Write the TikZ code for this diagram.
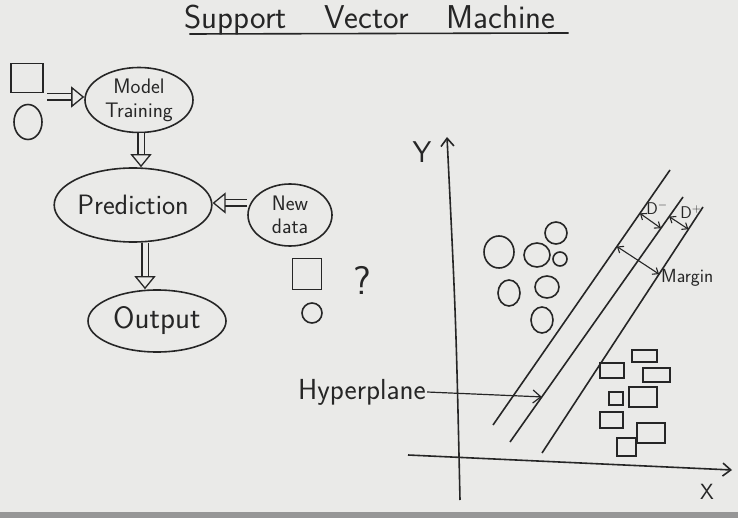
\documentclass[tikz,border=0pt]{standalone}
\usepackage{tikz}
\usetikzlibrary{arrows.meta, positioning, shapes.geometric, calc}
\definecolor{boardgray}{RGB}{234,234,232}
\definecolor{inkgray}{RGB}{38,38,38}
\definecolor{framegray}{RGB}{150,150,150}

\tikzset{
  ink/.style={draw=inkgray, line width=1.6pt},
  bubble/.style={ellipse, ink, inner sep=0pt, text=inkgray, align=center},
  hollow/.style={draw=inkgray, line width=1.3pt, double=boardgray, double distance=5pt,
    -{Triangle[open, length=13pt, width=21pt]}},
  barb/.style={ink, -{Straight Barb[length=8pt, width=13pt]}},
  dim/.style={draw=inkgray, line width=1.1pt,
    {Straight Barb[length=5pt, width=8pt]}-{Straight Barb[length=5pt, width=8pt]}},
  label/.style={text=inkgray, inner sep=1pt}
}

\begin{document}
\begin{tikzpicture}[x=1pt, y=-1pt, font=\sffamily]
  \fill[boardgray] (0,0) rectangle (738,518);
  \fill[framegray] (0,512) rectangle (738,518);
  \useasboundingbox (0,0) rectangle (738,518);

  % title
  \node[label, anchor=base, font=\sffamily\fontsize{33}{36}\selectfont] (title) at (370,29)
    {Support\hspace{38pt}Vector\hspace{38pt}Machine};
  \draw[ink] ([xshift=6pt, yshift=-5pt]title.base west) -- ([xshift=12pt, yshift=-4pt]title.base east);

  % flow of the classifier
  \node[draw=inkgray, line width=1.6pt, minimum width=32pt, minimum height=29pt] (sqA) at (27,78) {};
  \node[draw=inkgray, line width=1.6pt, ellipse, minimum width=28pt, minimum height=35pt] (cirA) at (28,122) {};
  \coordinate (inA) at (47,97);
  \node[bubble, minimum width=108pt, minimum height=65pt,
    font=\sffamily\fontsize{21}{24}\selectfont] (train) at (139,100) {Model\\Training};
  \node[bubble, minimum width=140pt, minimum height=74pt,
    font=\sffamily\fontsize{28}{30}\selectfont] (pred) at (133,205) {Prediction};
  \node[bubble, minimum width=84pt, minimum height=62pt,
    font=\sffamily\fontsize{21}{23}\selectfont] (newdata) at (290,215) {New\\data};
  \node[bubble, minimum width=138pt, minimum height=62pt,
    font=\sffamily\fontsize{31}{34}\selectfont] (output) at (157,321) {Output};

  \draw[hollow] (inA) -- (train.west |- inA);
  \draw[hollow] ([xshift=2pt]train.south) -- ([xshift=2pt]train.south |- pred.north);
  \draw[hollow] ([yshift=12pt]newdata.west) -- ([yshift=2pt]pred.east);
  \draw[hollow] ([xshift=12pt]pred.south) -- ([xshift=12pt]pred.south |- output.north);

  % unknown sample
  \node[draw=inkgray, line width=1.6pt, minimum width=29pt, minimum height=31pt] (sqB) at (307,274) {};
  \node[draw=inkgray, line width=1.6pt, ellipse, minimum width=20pt, minimum height=20pt] (cirB) at (312,313) {};
  \node[label, font=\sffamily\fontsize{40}{42}\selectfont] (ask) at (362,280) {?};

  % axes
  \coordinate (yfoot) at (460,500);
  \coordinate (ytip) at (447,137);
  \coordinate (xfoot) at (408,455);
  \coordinate (xtip) at (732,470);
  \draw[barb] (yfoot) .. controls (456,320) .. (ytip);
  \draw[barb] (xfoot) -- (xtip);
  \node[label, font=\sffamily\fontsize{30}{32}\selectfont] (ylab) at (422,152) {Y};
  \node[label, font=\sffamily\fontsize{22}{24}\selectfont] (xlab) at (707,492) {X};

  % support lines and hyperplane
  \coordinate (l1a) at (493,425);
  \coordinate (l1b) at (670,170);
  \coordinate (l2a) at (510,442);
  \coordinate (l2b) at (683,197);
  \coordinate (l3a) at (542,453);
  \coordinate (l3b) at (703,207);
  \draw[ink] (l1a) -- (l1b);
  \draw[ink] (l2a) -- (l2b);
  \draw[ink] (l3a) -- (l3b);

  % distances
  \coordinate (dm1) at ($(l1a)!0.83!(l1b)$);
  \coordinate (dm2) at ($(l2a)!(dm1)!(l2b)$);
  \coordinate (dp1) at ($(l2a)!0.92!(l2b)$);
  \coordinate (dp2) at ($(l3a)!(dp1)!(l3b)$);
  \coordinate (mg1) at ($(l1a)!0.70!(l1b)$);
  \coordinate (mg2) at ($(l3a)!(mg1)!(l3b)$);
  \draw[dim] (dm1) -- (dm2);
  \draw[dim] (dp1) -- (dp2);
  \draw[dim] (mg1) -- (mg2);
  \node[label, font=\sffamily\fontsize{17}{19}\selectfont] (dminus) at (657,208) {D$^-$};
  \node[label, font=\sffamily\fontsize{17}{19}\selectfont] (dplus) at (691,212) {D$^+$};
  \node[label, anchor=west, font=\sffamily\fontsize{19}{21}\selectfont] (margin) at (660,278) {Margin};

  \node[label, font=\sffamily\fontsize{29}{32}\selectfont] (hyper) at (362,392) {Hyperplane};
  \coordinate (hpt) at ($(l2a)!0.184!(l2b)$);
  \draw[barb, line width=1.2pt] (hyper.east) -- (hpt);

  % class one: circles
  \foreach \cx/\cy/\rx/\ry in {499/252/15/16, 537/255/13/12, 556/233/11/11, 560/259/7/7,
      509/293/11/13, 547/287/12/11, 542/320/11/13}
    \draw[ink] (\cx,\cy) ellipse [x radius=\rx, y radius=\ry];

  % class two: squares
  \foreach \ax/\ay/\bx/\by in {632/350/657/362, 600/363/624/378, 643/368/670/382,
      609/392/623/405, 629/387/657/407, 600/412/623/428, 637/423/665/443, 617/438/636/456}
    \draw[ink] (\ax,\ay) rectangle (\bx,\by);
\end{tikzpicture}
\end{document}
